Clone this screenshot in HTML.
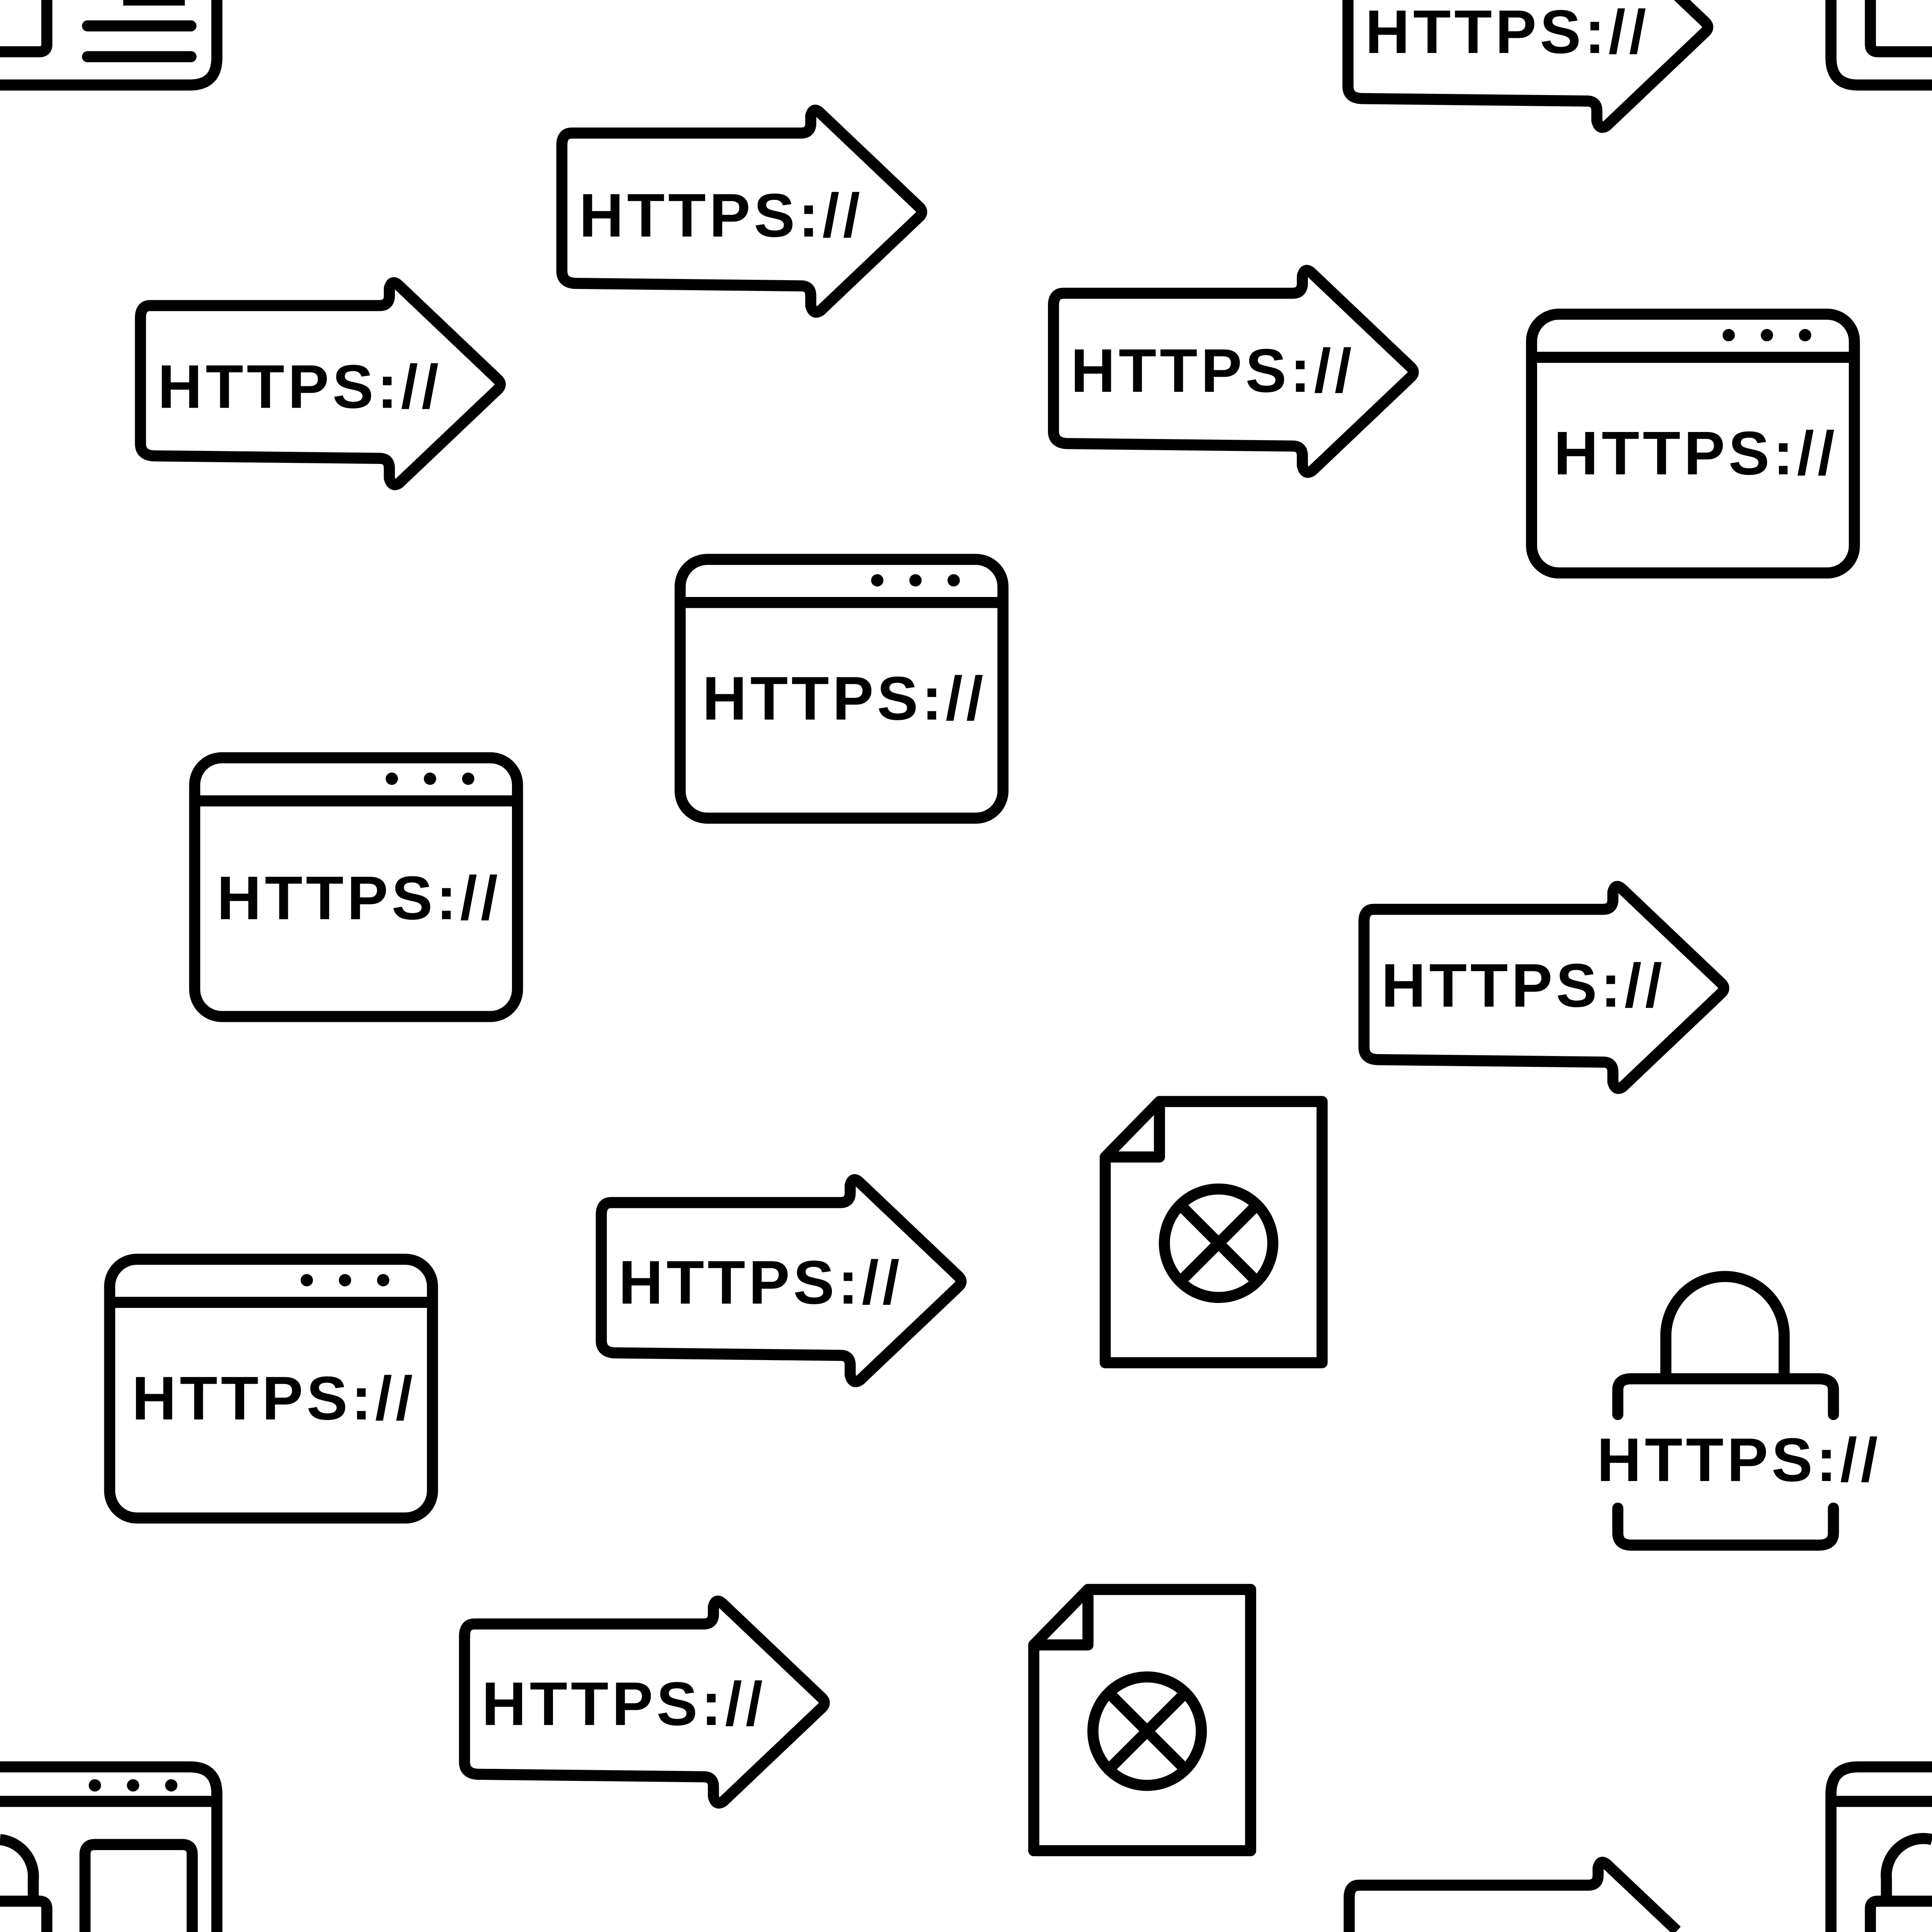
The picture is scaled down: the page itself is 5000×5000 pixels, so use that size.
<!DOCTYPE html>
<html><head><meta charset="utf-8"><style>
html,body{margin:0;padding:0;background:#fff;width:5000px;height:5000px;overflow:hidden;position:relative}
svg{display:block;position:absolute;left:0;top:0;overflow:hidden}
text{font-family:"Liberation Sans",sans-serif;font-weight:bold;font-size:50px;fill:#000}
</style></head><body>
<svg width="5000" height="5000" viewBox="0 0 1568 1568" xmlns="http://www.w3.org/2000/svg">
<defs>
<path id="arr" d="M8,0 L194,0 Q202,0 202,-8 L202,-14 Q204,-22 210,-16 L290,60 Q294,64 290,68 L210,144 Q204,148 202,140 L202,132 Q202,124 194,124 L12,122 Q0,122 0,112 L0,10 Q0,0 8,0 Z" fill="none" stroke="#000" stroke-width="9" stroke-linejoin="round"/>
<g id="win" fill="none" stroke="#000" stroke-width="9">
<rect x="0" y="0" width="262" height="210" rx="22"/>
<line x1="0" y1="35" x2="262" y2="35"/>
<circle cx="160" cy="17" r="5" fill="#000" stroke="none"/>
<circle cx="191" cy="17" r="5" fill="#000" stroke="none"/>
<circle cx="222" cy="17" r="5" fill="#000" stroke="none"/>
</g>
<g id="file" fill="none" stroke="#000" stroke-width="9" stroke-linejoin="round">
<path d="M44,0 L176,0 L176,212 L0,212 L0,45 Z"/>
<path d="M0,45 L44,45 L44,0"/>
<circle cx="92" cy="115" r="44"/>
<line x1="61" y1="84" x2="123" y2="146"/>
<line x1="123" y1="84" x2="61" y2="146"/>
</g>
</defs>
<rect width="1568" height="1568" fill="#fff"/>

<use href="#arr" x="456" y="108"/>
<text x="470" y="192" textLength="228" lengthAdjust="spacing">HTTPS://</text>
<use href="#arr" x="114" y="248"/>
<text x="128" y="331" textLength="228" lengthAdjust="spacing">HTTPS://</text>
<use href="#arr" x="855" y="238"/>
<text x="869" y="318" textLength="228" lengthAdjust="spacing">HTTPS://</text>
<use href="#arr" x="1107" y="738"/>
<text x="1121" y="817" textLength="228" lengthAdjust="spacing">HTTPS://</text>
<use href="#arr" x="488" y="976"/>
<text x="502" y="1058" textLength="228" lengthAdjust="spacing">HTTPS://</text>
<use href="#arr" x="377" y="1318"/>
<text x="391" y="1400" textLength="228" lengthAdjust="spacing">HTTPS://</text>
<use href="#arr" x="1094" y="-42"/>
<text x="1108" y="43" textLength="228" lengthAdjust="spacing">HTTPS://</text>
<path d="M1095,1568 L1095,1540 Q1095,1530 1103,1530 L1289,1530 Q1297,1530 1297,1522 L1297,1516 Q1299,1508 1305,1514 L1361,1567" fill="none" stroke="#000" stroke-width="9" stroke-linejoin="round"/>

<use href="#win" x="552" y="454"/>
<text x="570" y="584" textLength="228" lengthAdjust="spacing">HTTPS://</text>
<use href="#win" x="158" y="615"/>
<text x="176" y="746" textLength="228" lengthAdjust="spacing">HTTPS://</text>
<use href="#win" x="89" y="1022"/>
<text x="107" y="1152" textLength="228" lengthAdjust="spacing">HTTPS://</text>
<use href="#win" x="1243" y="255"/>
<text x="1261" y="385" textLength="228" lengthAdjust="spacing">HTTPS://</text>

<use href="#file" x="897" y="894"/>
<use href="#file" x="839" y="1290"/>

<g fill="none" stroke="#000" stroke-width="9" stroke-linecap="round">
<path d="M1352,1118 L1352,1084 A48,48 0 0 1 1448,1084 L1448,1118"/>
<path d="M1313,1148 L1313,1128 Q1313,1119 1324,1119 L1476,1119 Q1488,1119 1488,1128 L1488,1148"/>
<path d="M1313,1224 L1313,1244 Q1313,1254 1324,1254 L1476,1254 Q1488,1254 1488,1244 L1488,1224"/>
</g>
<text x="1296" y="1202" textLength="228" lengthAdjust="spacing">HTTPS://</text>

<g fill="none" stroke="#000" stroke-width="9">
<path d="M0,69 L154,69 Q176,69 176,47 L176,0"/>
<path d="M0,42 L32,42 Q38,42 38,36 L38,0"/>
<line x1="71" y1="21" x2="155" y2="21" stroke-linecap="round"/>
<line x1="71" y1="46" x2="155" y2="46" stroke-linecap="round"/>
<line x1="100" y1="0" x2="150" y2="0"/>
<path d="M0,1434 L154,1434 Q176,1434 176,1456 L176,1568"/>
<line x1="0" y1="1462" x2="176" y2="1462"/>
<path d="M69,1568 L69,1505 Q69,1497 77,1497 L148,1497 Q156,1497 156,1505 L156,1568"/>
<path d="M0,1493 A30,30 0 0 1 27,1525 L27,1543"/>
<path d="M0,1543 L32,1543 Q38,1543 38,1549 L38,1568"/>
<path d="M1568,69 L1508,69 Q1486,69 1486,47 L1486,0"/>
<path d="M1568,42 L1524,42 Q1518,42 1518,36 L1518,0"/>
<path d="M1568,1434 L1508,1434 Q1486,1434 1486,1456 L1486,1568"/>
<line x1="1486" y1="1462" x2="1568" y2="1462"/>
<path d="M1568,1493 A30,30 0 0 0 1531,1525 L1531,1543"/>
<path d="M1568,1543 L1524,1543 Q1518,1543 1518,1549 L1518,1568"/>
</g>
<circle cx="77" cy="1449" r="5"/><circle cx="108" cy="1449" r="5"/><circle cx="139" cy="1449" r="5"/>
</svg>
</body></html>
